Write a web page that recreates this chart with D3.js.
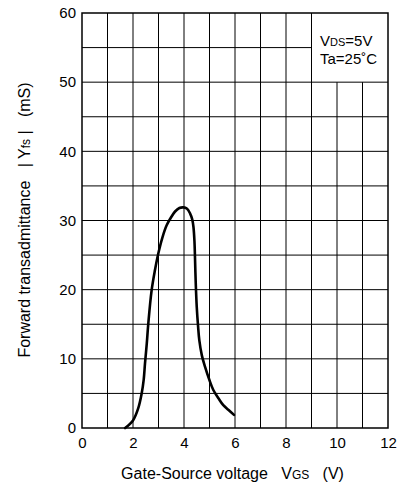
<!DOCTYPE html>
<html>
<head>
<meta charset="utf-8">
<script src="https://cdn.jsdelivr.net/npm/d3@7"></script>
<style>
  body { margin: 0; background: #fff; }
  text { font-family: "Liberation Sans", Arial, sans-serif; fill: #000; }
</style>
</head>
<body>
<svg id="chart" width="408" height="489"></svg>
<script>
// curve
const vgs = [1.69, 2.0, 2.2, 2.34, 2.42, 2.47, 2.54, 2.6, 2.73, 2.86, 2.99, 3.15, 3.32, 3.5, 3.65, 3.82, 3.97, 4.12, 4.24, 4.32, 4.37, 4.41, 4.43, 4.46, 4.5, 4.55, 4.6, 4.7, 4.82, 5.0, 5.15, 5.35, 5.54, 5.75, 5.96];
const yfs = [0, 1.1, 2.8, 5.0, 7.0, 9.3, 12.2, 15.1, 19.9, 22.8, 25.2, 27.5, 29.3, 30.5, 31.3, 31.8, 31.9, 31.7, 31.0, 30.2, 29.1, 27.0, 24.8, 21.0, 17.5, 14.8, 12.7, 10.5, 8.9, 6.9, 5.5, 4.3, 3.3, 2.6, 1.9];

const xTicks = [0, 2, 4, 6, 8, 10, 12];
const yTicks = [0, 10, 20, 30, 40, 50, 60];

const svg = d3.select('#chart');
const mLeft = 82, mRight = 388, mTop = 13, mBottom = 428;

const x = d3.scaleLinear().domain([0, 12]).range([mLeft, mRight]);
const y = d3.scaleLinear().domain([0, 60]).range([mBottom, mTop]);

// grid - legend box (x 9..12, y 50..60) is kept clear
const grid = svg.append('g').attr('stroke', '#000').attr('stroke-width', 1);
d3.range(1, 12).forEach((v) => {
  const yTop = v > 9 ? y(50) : y(60);
  grid.append('line').attr('x1', x(v)).attr('x2', x(v)).attr('y1', yTop).attr('y2', y(0));
});
d3.range(5, 60, 5).forEach((v) => {
  const xEnd = v > 50 ? x(9) : x(12);
  grid.append('line').attr('x1', x(0)).attr('x2', xEnd).attr('y1', y(v)).attr('y2', y(v));
});

// frame
svg.append('rect')
  .attr('x', mLeft).attr('y', mTop)
  .attr('width', mRight - mLeft).attr('height', mBottom - mTop)
  .attr('fill', 'none').attr('stroke', '#000').attr('stroke-width', 1.5);

// axes (labels only)
const xAxis = svg.append('g')
  .attr('transform', `translate(0,${mBottom})`)
  .call(d3.axisBottom(x).tickValues(xTicks).tickSize(0).tickPadding(9));
const yAxis = svg.append('g')
  .attr('transform', `translate(${mLeft},0)`)
  .call(d3.axisLeft(y).tickValues(yTicks).tickSize(0).tickPadding(6));
[xAxis, yAxis].forEach((a) => {
  a.select('.domain').remove();
  a.selectAll('text').style('font-size', '15px').style('font-family', '"Liberation Sans", Arial, sans-serif').attr('fill', '#000');
});

// curve
const pts = vgs.map((v, i) => [v, yfs[i]]);
svg.append('path')
  .datum(pts)
  .attr('d', d3.line().x((d) => x(d[0])).y((d) => y(d[1])).curve(d3.curveCatmullRom))
  .attr('fill', 'none')
  .attr('stroke', '#000')
  .attr('stroke-width', 2.6)
  .attr('stroke-linecap', 'round');

// conditions
const cond = svg.append('g').style('font-size', '15px');
const t1 = cond.append('text').attr('x', 320).attr('y', 46);
t1.append('tspan').text('V');
t1.append('tspan').style('font-size', '11px').text('DS');
t1.append('tspan').text('=5V');
cond.append('text').attr('x', 320).attr('y', 64).text('Ta=25˚C');

// x title
const xt = svg.append('text')
  .attr('x', 232.5).attr('y', 479)
  .attr('text-anchor', 'middle')
  .style('font-size', '16px')
  .attr('xml:space', 'preserve');
xt.append('tspan').text('Gate-Source voltage   V');
xt.append('tspan').style('font-size', '12px').text('GS');
xt.append('tspan').text('   (V)');

// y title
const yt = svg.append('text')
  .attr('transform', 'translate(30,220) rotate(-90)')
  .attr('text-anchor', 'middle')
  .style('font-size', '16px')
  .attr('xml:space', 'preserve');
yt.append('tspan').text('Forward transadmittance   | Y');
yt.append('tspan').style('font-size', '12px').text('fs');
yt.append('tspan').text(' |   (mS)');
</script>
</body>
</html>
